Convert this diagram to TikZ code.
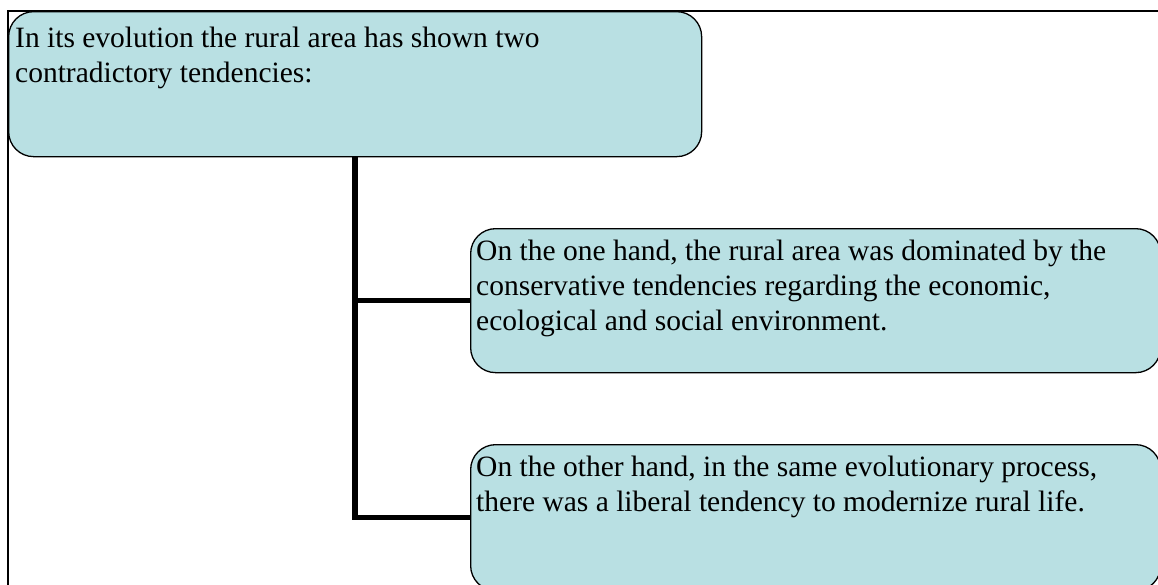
\documentclass[tikz,border=0pt]{standalone}
\usepackage{fontspec}
\setmainfont{Liberation Serif}
\usetikzlibrary{positioning}
\definecolor{boxblue}{RGB}{185,224,227}
\begin{document}
\begin{tikzpicture}[
        x=1pt,y=1pt,
        frame/.style={draw,line width=1.6pt},
        box/.style={draw,line width=1.3pt,fill=boxblue,rounded corners=25pt,
                    inner sep=0pt},
        txt/.style={anchor=north west,align=left,inner sep=0pt,
                    font=\fontsize{29.5}{35}\selectfont},
        link/.style={line width=5.5pt,line join=miter},
        ]
    \useasboundingbox (0,0) rectangle (1158,-584);
    \clip (0,0) rectangle (1158,-584);
    % page frame
    \draw[frame] (8,-11) rectangle (1175,-600);
    % boxes
    \node (top) [box,anchor=north west,minimum width=693pt,minimum height=145pt]
        at (8,-11) {};
    \node (one) [box,anchor=north west,minimum width=690pt,minimum height=144pt]
        at (470,-228) {};
    \node (two) [box,anchor=north west,minimum width=690pt,minimum height=146pt]
        at (470,-444) {};
    % texts
    \node (toptxt) [txt] at ([shift={(7pt,-16pt)}]top.north west)
        {In its evolution the rural area has shown two\\contradictory tendencies:};
    \node (onetxt) [txt] at ([shift={(6pt,-12pt)}]one.north west)
        {On the one hand, the rural area was dominated by the\\
         conservative tendencies regarding the economic,\\
         ecological and social environment.};
    \node (twotxt) [txt] at ([shift={(6pt,-12pt)}]two.north west)
        {On the other hand, in the same evolutionary process,\\
         there was a liberal tendency to modernize rural life.};
    % connectors
    \draw[link] (top.south) |- (one.west);
    \draw[link] (top.south) |- (two.west);
\end{tikzpicture}
\end{document}
